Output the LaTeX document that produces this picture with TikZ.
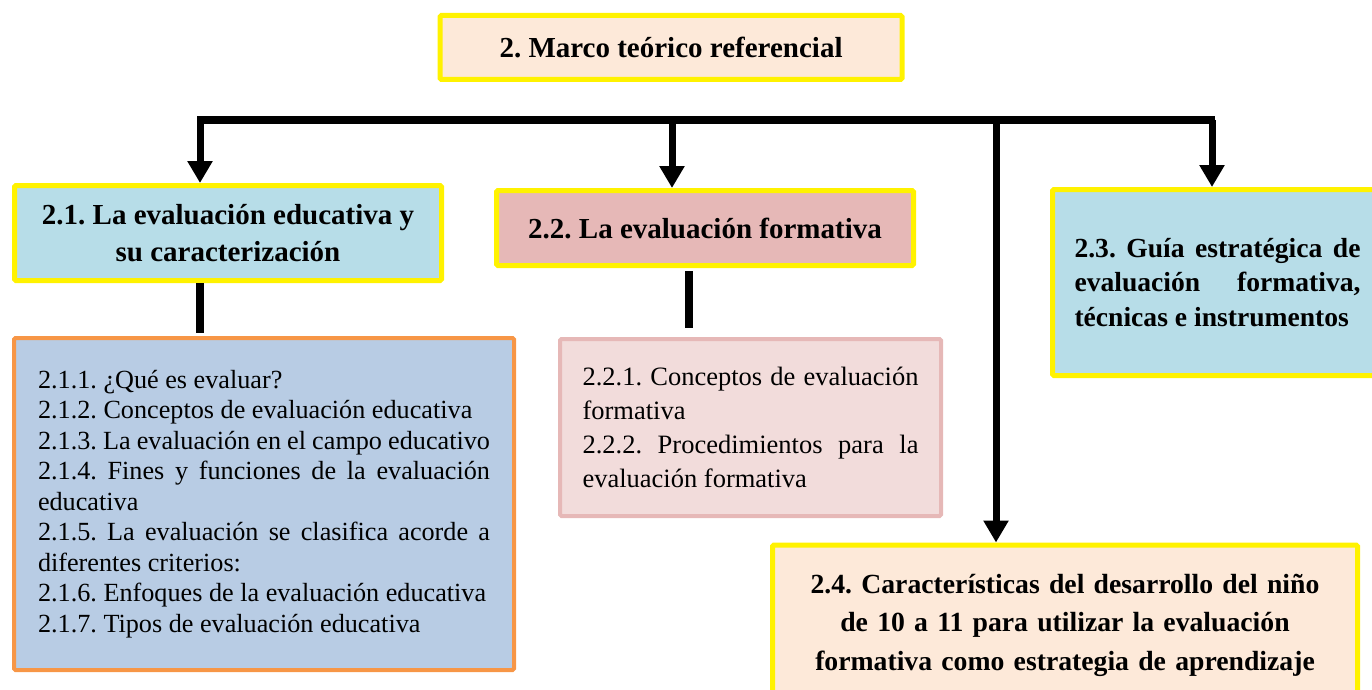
\documentclass[tikz,border=0pt]{standalone}
\usepackage{fontspec}
\setmainfont{Liberation Serif}
\usetikzlibrary{arrows.meta}
\definecolor{peach}{HTML}{FDE9D9}
\definecolor{aqua}{HTML}{B7DDE8}
\definecolor{rose}{HTML}{E6B8B7}
\definecolor{steel}{HTML}{B8CCE4}
\definecolor{blush}{HTML}{F2DCDB}
\definecolor{tangerine}{HTML}{F79646}
\hyphenpenalty=10000
\exhyphenpenalty=10000
\tolerance=9999
\frenchspacing
\tikzset{
  ybox/.style={draw=yellow, line width=5pt, rounded corners=1.5pt, inner sep=0pt,
    font=\bfseries\fontsize{29}{37}\selectfont, align=center},
  lbox/.style={line width=4pt, rounded corners=1.5pt, inner sep=0pt, align=justify,
    font=\fontsize{26.2}{30.5}\selectfont},
  stem/.style={line width=8pt},
  drop/.style={line width=7pt, -{Triangle[width=24pt,length=22pt]}},
}

\begin{document}
\begin{tikzpicture}[x=1pt,y=-1pt]
  \useasboundingbox (0,0) rectangle (1372,690);
  % boxes
  \node[ybox, fill=peach, minimum width=462pt, minimum height=64pt] (top) at (671,47.5)
    {2. Marco teórico referencial};
  \node[ybox, fill=aqua, minimum width=427pt, minimum height=95pt] (b21) at (228,233)
    {2.1. La evaluación educativa y\\ su caracterización};
  \node[ybox, fill=rose, minimum width=417pt, minimum height=75pt] (b22) at (705,228)
    {2.2. La evaluación formativa};
  \node[ybox, fill=aqua, minimum width=330pt, minimum height=186pt, text width=286pt,
    align=justify, font=\bfseries\fontsize{27.6}{34.5}\selectfont] (b23) at (1217.5,282.5)
    {2.3. Guía estratégica de\linebreak evaluación formativa,\linebreak técnicas e instrumentos\par\vskip25pt};
  \node[ybox, fill=peach, minimum width=585pt, minimum height=160pt, text width=560pt,
    font=\bfseries\fontsize{27.7}{38.5}\selectfont] (b24) at (1065,625)
    {2.4. Características del desarrollo del niño\\ de 10 a 11 para utilizar la evaluación\\
     formativa como estrategia de aprendizaje\par\vskip16pt};
  \node[lbox, draw=tangerine, fill=steel, minimum width=500pt, minimum height=332pt,
    text width=452pt] (l21) at (264,504)
    {2.1.1. ¿Qué es evaluar?\par
     2.1.2. Conceptos de evaluación educativa\par
     2.1.3. La evaluación en el campo educativo\par
     2.1.4. Fines y funciones de la evaluación\linebreak educativa\par
     2.1.5. La evaluación se clasifica acorde a\linebreak diferentes criterios:\par
     2.1.6. Enfoques de la evaluación educativa\par
     2.1.7. Tipos de evaluación educativa};
  \node[lbox, draw=rose, fill=blush, minimum width=381pt, minimum height=177pt,
    text width=336pt, font=\fontsize{26.5}{34}\selectfont] (l22) at (750.5,427.5)
    {2.2.1. Conceptos de evaluación\linebreak formativa\par
     2.2.2. Procedimientos para la\linebreak evaluación formativa};
  % connectors
  \coordinate (bl) at (197,120);
  \coordinate (br) at (1215,120);
  \coordinate (t1) at (200,120);
  \coordinate (t2) at (672,120);
  \coordinate (t3) at (996,120);
  \coordinate (t4) at (1212,120);
  \coordinate (s2) at (689,300);
  \draw[stem] (bl) -- (br);
  \draw[drop] (t1) -- (t1 |- b21.north);
  \draw[drop] (t2) -- (t2 |- b22.north);
  \draw[drop] (t4) -- (t4 |- b23.north);
  \draw[drop] (t3) -- (t3 |- b24.north);
  \draw[stem, shorten >=3pt] (t1 |- b21.south) -- (t1 |- l21.north);
  \draw[stem, shorten <=3pt, shorten >=9pt] (s2 |- b22.south) -- (s2 |- l22.north);
\end{tikzpicture}
\end{document}
